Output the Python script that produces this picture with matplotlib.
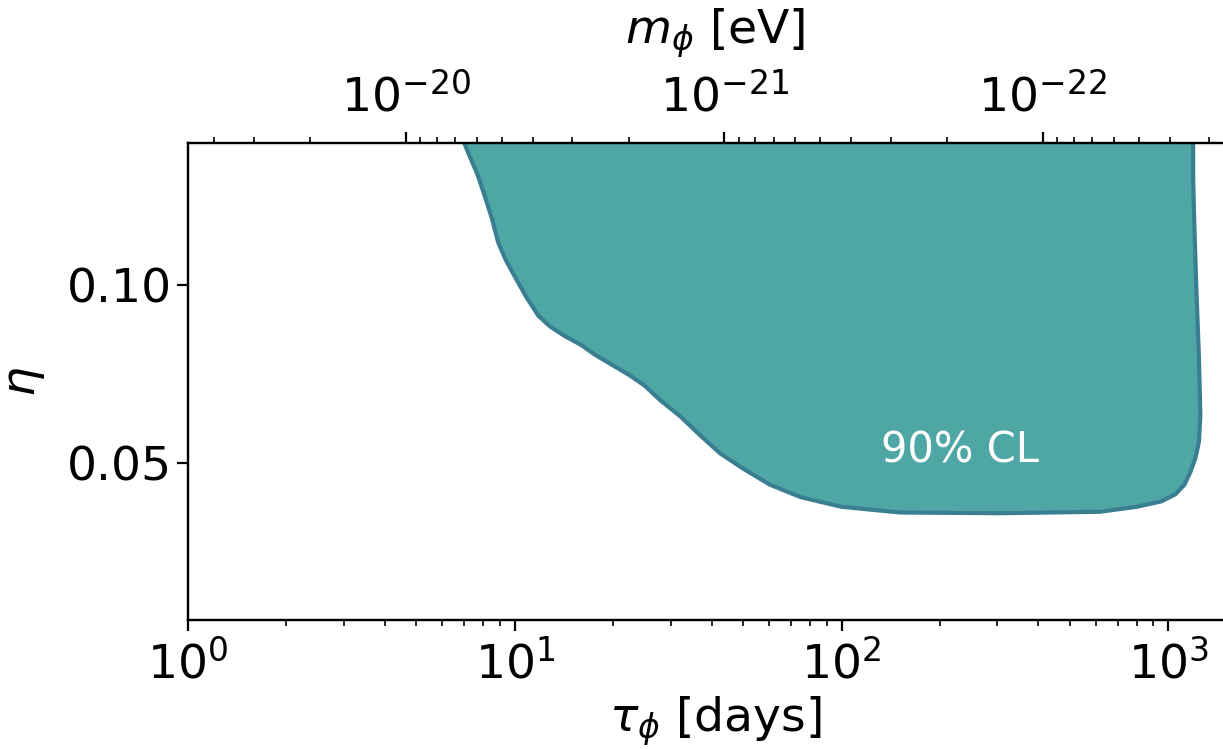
import matplotlib
matplotlib.use("Agg")
import matplotlib.pyplot as plt
from matplotlib.ticker import LogLocator, FixedLocator, FormatStrFormatter

# 90% CL exclusion contour (tau in days, eta)
tau_days = [6.9, 7.0, 7.3, 7.7, 8.1, 8.5, 8.9, 9.4, 10.0, 10.8, 11.8, 12.8,
            14.2, 16.0, 17.6, 20.0, 22.5, 25.0, 27.9, 32.1, 37.0, 42.5, 50.0,
            60.4, 75.0, 100, 151, 306, 617, 800, 950, 1050, 1120, 1167, 1210,
            1240, 1253, 1240, 1217, 1200, 1191, 1191]
eta_vals = [0.15, 0.14, 0.136, 0.131, 0.125, 0.119, 0.112, 0.107, 0.1025,
            0.097, 0.0915, 0.0885, 0.0858, 0.0832, 0.0805, 0.0775, 0.0747,
            0.0718, 0.0677, 0.0632, 0.0578, 0.0528, 0.0485, 0.0440, 0.0405,
            0.0378, 0.0362, 0.0360, 0.0364, 0.0378, 0.0393, 0.0413, 0.0440,
            0.0475, 0.0515, 0.0560, 0.0635, 0.080, 0.100, 0.118, 0.130, 0.15]

tau_lim = (1, 1680)
eta_lim = (0.006, 0.14)
mass_lim = (10**-19.316, 10**-22.625)
eta_ticks = [0.05, 0.10]
tau_ticks = [1, 10, 100, 1000]
mass_ticks = [1e-20, 1e-21, 1e-22]

fig = plt.figure(figsize=(12.23, 7.49), dpi=100)
ax = fig.add_axes([188/1223, 1 - 620/749, (1242 - 188)/1223, (620 - 143)/749])

ax.fill(tau_days, eta_vals, facecolor='#4fa7a5', edgecolor='#3a7f91', linewidth=3)
ax.text(231, 0.0536, '90% CL', color='white', fontsize=30, ha='center', va='center')

ax.set_xscale('log')
ax.set_xlim(*tau_lim)
ax.set_ylim(*eta_lim)
ax.xaxis.set_major_locator(FixedLocator(tau_ticks))
ax.yaxis.set_major_locator(FixedLocator(eta_ticks))
ax.yaxis.set_major_formatter(FormatStrFormatter('%.2f'))
ax.set_xlabel(r'$\tau_\phi$ [days]', fontsize=34, labelpad=4)
ax.set_ylabel(r'$\eta$', fontsize=34, labelpad=14)

# top axis: particle mass
ax2 = ax.twiny()
ax2.set_xscale('log')
ax2.set_xlim(*mass_lim)
ax2.xaxis.set_major_locator(FixedLocator(mass_ticks))
ax2.xaxis.set_minor_locator(LogLocator(base=10, subs=range(2, 10), numticks=10))
ax2.set_xlabel(r'$m_\phi$ [eV]', fontsize=34, labelpad=22)

for a in (ax, ax2):
    a.tick_params(which='major', labelsize=34, length=8, width=1.6)
    a.tick_params(which='minor', length=4.5, width=1.2)
    for s in a.spines.values():
        s.set_linewidth(1.6)
ax.tick_params(axis='x', which='major', pad=7)
ax2.tick_params(axis='x', which='major', pad=8)

fig.savefig('out.png', dpi=100)
